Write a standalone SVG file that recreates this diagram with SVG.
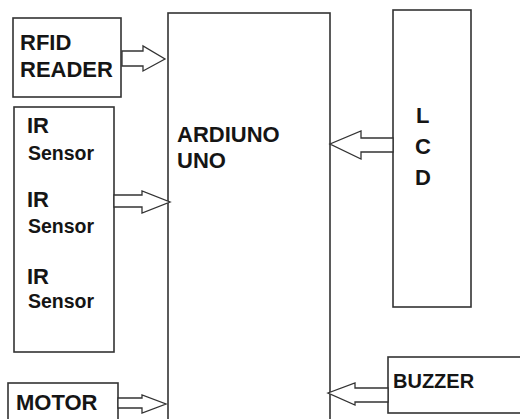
<svg xmlns="http://www.w3.org/2000/svg" width="520" height="419" viewBox="0 0 520 419">
<style>
.box{fill:#fff;stroke:#333;stroke-width:1.6}
.arr{fill:#fff;stroke:#333;stroke-width:1.3;stroke-linejoin:miter}
text{font-family:"Liberation Sans",Arial,sans-serif;font-weight:bold;fill:#151515}
.big{font-size:22px}
.sm{font-size:19.5px}
.lcd{font-size:22px}
</style>
<rect width="520" height="419" fill="#fff"/>
<g id="arduino"><rect class="box" x="168" y="13" width="162" height="420"/>
<text class="big" x="177" y="142">ARDIUNO</text><text class="big" x="177" y="168">UNO</text></g>
<g id="rfid"><rect class="box" x="13" y="18" width="108" height="79"/>
<text class="big" x="20" y="50">RFID</text><text class="big" x="20" y="77">READER</text></g>
<g id="ir"><rect class="box" x="14" y="107" width="100" height="245"/>
<text class="big" x="27" y="133">IR</text><text class="sm" x="28" y="160">Sensor</text>
<text class="big" x="27" y="207">IR</text><text class="sm" x="28" y="233">Sensor</text>
<text class="big" x="27" y="284">IR</text><text class="sm" x="28" y="308">Sensor</text></g>
<g id="lcd"><rect class="box" x="393" y="10" width="78" height="297"/>
<text class="lcd" x="416" y="123">L</text><text class="lcd" x="415" y="154">C</text><text class="lcd" x="415" y="185">D</text></g>
<g id="buzzer"><rect class="box" x="388" y="357" width="140" height="56"/>
<text class="big" x="393" y="388" style="font-size:20px">BUZZER</text></g>
<g id="motor"><rect class="box" x="8" y="383" width="110" height="42"/>
<text class="big" x="16" y="410">MOTOR</text></g>
<g id="connectors">
<polygon class="arr" points="122,51 143,51 143,46 165,59 143,71 143,66 122,66"/>
<polygon class="arr" points="114,195 142,195 142,191 170,202 142,213 142,207 114,207"/>
<polygon class="arr" points="393,138 361,138 361,131 330,144 361,159 361,152 393,152"/>
<polygon class="arr" points="388,388 355,388 355,383 328,393 355,405 355,402 388,402"/>
<polygon class="arr" points="118,398 142,398 142,395 166,404 142,413 142,408 118,408"/>
</g>
</svg>
